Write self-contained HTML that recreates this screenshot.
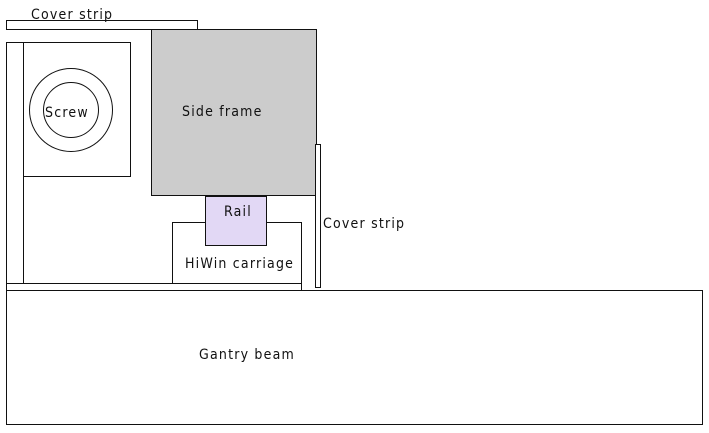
<!DOCTYPE html>
<html><head><style>
html,body{margin:0;padding:0;background:#fff;width:709px;height:433px;overflow:hidden}
svg text{font-family:"DejaVu Sans Condensed","Liberation Sans",sans-serif;font-size:14px;fill:#111;letter-spacing:1.2px}
</style></head><body>
<svg width="709" height="433" xmlns="http://www.w3.org/2000/svg">
<g stroke="#111" stroke-width="1" fill="none">
<rect x="6.5" y="20.5" width="191" height="9" fill="#fff"/>
<rect x="151.5" y="29.5" width="165" height="166" fill="#cccccc"/>
<rect x="6.5" y="42.5" width="17" height="241" fill="#fff"/>
<rect x="23.5" y="42.5" width="107" height="134" fill="#fff"/>
<circle cx="71" cy="110" r="41.5"/>
<circle cx="71" cy="110" r="27.5"/>
<rect x="172.5" y="222.5" width="129" height="61" fill="#fff"/>
<rect x="205.5" y="196.5" width="61" height="49" fill="#e2d8f5"/>
<rect x="6.5" y="283.5" width="295" height="7" fill="#fff"/>
<rect x="315.5" y="144.5" width="5" height="143" fill="#fff"/>
<rect x="6.5" y="290.5" width="696" height="134" fill="#fff"/>
</g>
<text x="31" y="19">Cover strip</text>
<text x="45" y="117">Screw</text>
<text x="182" y="116">Side frame</text>
<text x="224" y="216">Rail</text>
<text x="185" y="268">HiWin carriage</text>
<text x="323" y="228">Cover strip</text>
<text x="199" y="359">Gantry beam</text>
</svg>
</body></html>
